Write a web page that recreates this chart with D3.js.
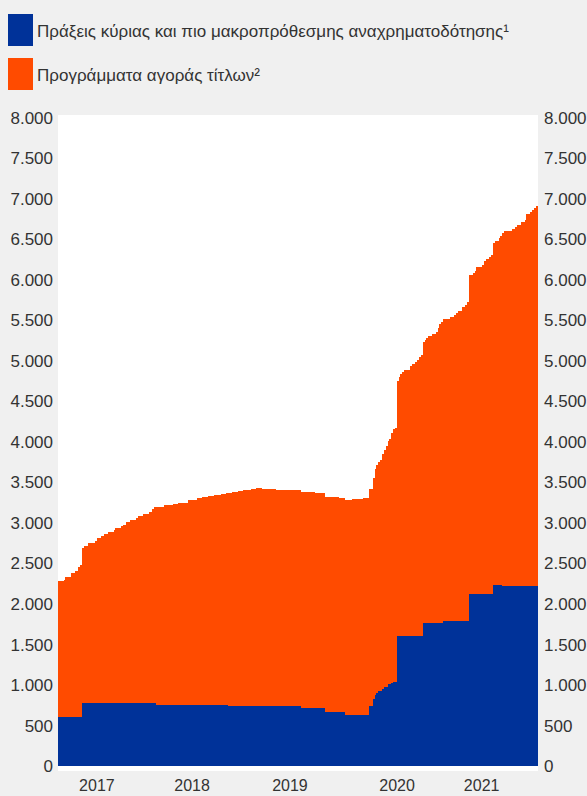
<!DOCTYPE html>
<html>
<head>
<meta charset="utf-8">
<script src="https://cdn.jsdelivr.net/npm/d3@7"></script>
<style>
    html, body { margin: 0; padding: 0; background: #f0f0f0; }
    svg { display: block; font-family: "Liberation Sans", Arial, sans-serif; }
</style>
</head>
<body>
<svg id="chart" width="587" height="796"></svg>
<script>
// Weekly statements, counted in weeks from the first one
const START_DATE = '2016-12-23';
const END_DATE = '2021-12-12';

// Legend entries
const seriesNames = [
    'Πράξεις κύριας και πιο μακροπρόθεσμης αναχρηματοδότησης¹',
    'Προγράμματα αγοράς τίτλων²'
];

// Lending operations: [week, EUR bn] - value holds until next entry
const lendingSteps = [
    [0, 600], [13, 780], [53, 757], [92, 745], [131, 720], [144, 672], [155, 625],
    [168, 742], [170, 824], [171, 878], [172, 899], [173, 927], [175, 952], [176, 977],
    [178, 1010], [180, 1026], [181, 1039], [183, 1607], [197, 1768], [208, 1793],
    [222, 2127], [235, 2238], [240, 2226]
];

// Asset purchase programmes: [week, EUR bn]
const purchaseSteps = [
    [0, 1679], [3, 1700], [4, 1733], [7, 1782], [9, 1811], [11, 1860], [12, 1885],
    [13, 1912], [14, 1940], [16, 1969], [20, 1994], [21, 2027], [23, 2055], [25, 2076],
    [27, 2101], [30, 2126], [31, 2150], [34, 2179], [35, 2196], [37, 2225], [39, 2255],
    [42, 2283], [43, 2303], [46, 2333], [49, 2357], [51, 2386], [52, 2410], [53, 2433],
    [57, 2458], [62, 2470], [65, 2491], [70, 2520], [75, 2543], [78, 2558], [81, 2568],
    [84, 2583], [88, 2598], [91, 2608], [92, 2620], [94, 2640], [97, 2650], [100, 2660],
    [104, 2670], [107, 2680], [110, 2675], [113, 2670], [118, 2665], [122, 2660],
    [126, 2655], [131, 2658], [135, 2655], [139, 2650], [144, 2648], [148, 2643],
    [152, 2638], [155, 2655], [159, 2665], [162, 2670], [165, 2675], [168, 2678],
    [170, 2733], [171, 2782], [172, 2814], [173, 2828], [174, 2848], [175, 2894],
    [176, 2918], [177, 2971], [178, 3000], [179, 3030], [180, 3079], [181, 3116],
    [182, 3136], [183, 3145], [184, 3193], [185, 3228], [186, 3256], [187, 3277],
    [190, 3327], [191, 3351], [193, 3380], [194, 3405], [195, 3438], [196, 3463],
    [197, 3462], [198, 3487], [199, 3508], [200, 3536], [202, 3561], [204, 3586],
    [205, 3636], [206, 3685], [207, 3710], [208, 3722], [212, 3751], [214, 3776],
    [215, 3796], [216, 3821], [218, 3870], [220, 3899], [221, 3932], [222, 3932],
    [224, 3957], [225, 3982], [226, 4031], [229, 4056], [230, 4105], [231, 4130],
    [233, 4155], [234, 4180], [235, 4217], [236, 4242], [238, 4279], [239, 4304],
    [240, 4353], [241, 4378], [245, 4403], [247, 4427], [248, 4452], [250, 4489],
    [252, 4514], [253, 4588], [255, 4613], [256, 4638], [257, 4662], [258, 4687]
];

// Axis labels
const yTicks = [0, 500, 1000, 1500, 2000, 2500, 3000, 3500, 4000, 4500, 5000, 5500, 6000, 6500, 7000, 7500, 8000];
const yearLabels = ['2017', '2018', '2019', '2020', '2021'];
const yearLabelDates = ['2017-05-19', '2018-05-14', '2019-05-19', '2020-06-27', '2021-05-13'];

const COLOURS = ['#003299', '#ff4b00'];
const TEXT_COLOUR = '#333';

const parseTime = d3.timeParse('%Y-%m-%d');
const startDate = parseTime(START_DATE);
const endDate = parseTime(END_DATE);

const locale = d3.formatLocale({ decimal: ',', thousands: '.', grouping: [3], currency: ['', ' €'] });
const formatNum = locale.format(',.0f');

// Plot area
const plot = { left: 58, right: 538, top: 115, bottom: 771 };

const x = d3.scaleTime()
    .domain([startDate, endDate])
    .range([plot.left, plot.right]);

const y = d3.scaleLinear()
    .domain([0, 8000])
    .range([766, 117.5]);

const svg = d3.select('#chart');

// Legend
const legend = svg.append('g');
seriesNames.forEach((name, i) => {
    legend.append('rect')
        .attr('x', 8)
        .attr('y', 14 + i * 44)
        .attr('width', 25)
        .attr('height', 32)
        .attr('fill', COLOURS[i]);
    legend.append('text')
        .attr('x', 37)
        .attr('y', 37 + i * 44)
        .attr('font-size', 17)
        .attr('fill', TEXT_COLOUR)
        .text(name);
});

// White plot background
svg.append('rect')
    .attr('x', plot.left)
    .attr('y', plot.top)
    .attr('width', plot.right - plot.left)
    .attr('height', plot.bottom - plot.top)
    .attr('fill', '#fff');

// Value of a step series at a given week
function stepValue(steps, week) {
    let v = steps[0][1];
    for (const s of steps) {
        if (s[0] <= week) v = s[1];
    }
    return v;
}

const lastWeek = Math.floor(d3.timeDay.count(startDate, endDate) / 7);
const rows = d3.range(0, lastWeek + 1).map(w => ({
    date: d3.timeDay.offset(startDate, 7 * w),
    lending: stepValue(lendingSteps, w),
    purchases: stepValue(purchaseSteps, w)
}));
// carry last values to the right edge
rows.push(Object.assign({}, rows[rows.length - 1], { date: endDate }));

const stacked = d3.stack().keys(['lending', 'purchases'])(rows);

const area = d3.area()
    .curve(d3.curveStepAfter)
    .x(d => x(d.data.date))
    .y0(d => y(d[0]))
    .y1(d => y(d[1]));

svg.append('g')
    .selectAll('path')
    .data(stacked)
    .enter()
    .append('path')
    .attr('d', area)
    .attr('fill', (d, i) => COLOURS[i])
    .attr('shape-rendering', 'crispEdges');

// Y axes on both sides
const leftAxis = svg.append('g');
leftAxis.selectAll('text')
    .data(yTicks)
    .enter()
    .append('text')
    .attr('x', 53)
    .attr('y', d => y(d))
    .attr('dy', '0.36em')
    .attr('text-anchor', 'end')
    .attr('font-size', 17)
    .attr('fill', TEXT_COLOUR)
    .text(d => formatNum(d));

const rightAxis = svg.append('g');
rightAxis.selectAll('text')
    .data(yTicks)
    .enter()
    .append('text')
    .attr('x', 544)
    .attr('y', d => y(d))
    .attr('dy', '0.36em')
    .attr('text-anchor', 'start')
    .attr('font-size', 17)
    .attr('fill', TEXT_COLOUR)
    .text(d => formatNum(d));

// Year labels
svg.append('g')
    .selectAll('text')
    .data(yearLabels)
    .enter()
    .append('text')
    .attr('x', (d, i) => x(parseTime(yearLabelDates[i])))
    .attr('y', 791)
    .attr('text-anchor', 'middle')
    .attr('font-size', 16)
    .attr('fill', TEXT_COLOUR)
    .text(d => d);
</script>
</body>
</html>
